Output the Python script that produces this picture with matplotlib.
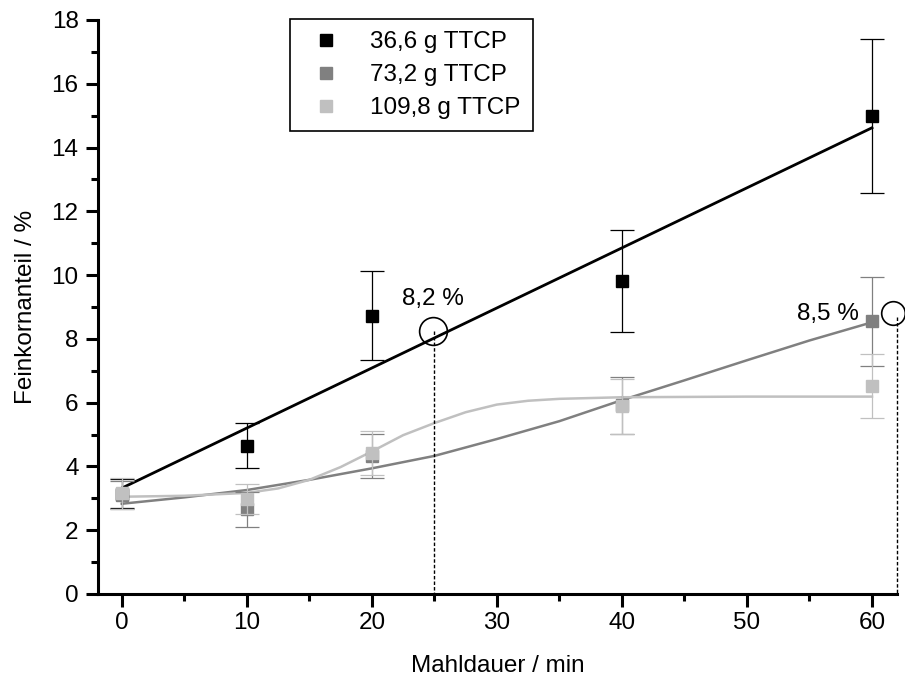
import matplotlib
matplotlib.use("Agg")
import matplotlib.pyplot as plt
from matplotlib.lines import Line2D
from matplotlib.ticker import MultipleLocator

plt.rcParams['font.family'] = ['Liberation Sans', 'DejaVu Sans']
plt.rcParams['font.size'] = 17.5

# measured values (Mahldauer in min, Feinkornanteil in %)
time = [0, 10, 20, 40, 60]
ttcp_36 = [3.15, 4.65, 8.73, 9.83, 14.99]
err_36 = [0.45, 0.7, 1.4, 1.6, 2.4]
ttcp_73 = [3.1, 2.65, 4.33, 5.92, 8.55]
err_73 = [0.45, 0.55, 0.7, 0.9, 1.4]
ttcp_110 = [3.16, 2.98, 4.42, 5.88, 6.53]
err_110 = [0.49, 0.46, 0.7, 0.85, 1.0]

# fit curves
fit_36_x = [0, 60]
fit_36_y = [3.32, 14.62]
fit_73_x = [0, 5, 10, 15, 20, 25, 30, 35, 40, 45, 50, 55, 60]
fit_73_y = [2.83, 3.03, 3.26, 3.58, 3.94, 4.33, 4.86, 5.42, 6.08, 6.70, 7.33, 7.95, 8.52]
fit_110_x = [0, 5, 10, 12.5, 15, 17.5, 20, 22.5, 25, 27.5, 30, 32.5, 35, 40, 50, 60]
fit_110_y = [3.05, 3.08, 3.17, 3.31, 3.58, 3.98, 4.47, 4.98, 5.36, 5.70, 5.94, 6.06, 6.12, 6.17, 6.19, 6.19]

labels = ['36,6 g TTCP', '73,2 g TTCP', '109,8 g TTCP']
colors = ['#000000', '#808080', '#c0c0c0']

fig = plt.figure(figsize=(9.05, 6.78), dpi=100)
ax = fig.add_axes([98 / 905, 84 / 678, 799 / 905, 574 / 678])

series = [(ttcp_36, err_36, fit_36_x, fit_36_y),
          (ttcp_73, err_73, fit_73_x, fit_73_y),
          (ttcp_110, err_110, fit_110_x, fit_110_y)]
lws = [2.0, 1.8, 1.8]
for i, (vals, errs, fx, fy) in enumerate(series):
    ax.plot(fx, fy, color=colors[i], lw=lws[i], zorder=2 + i)
    ax.errorbar(time, vals, yerr=errs, fmt='s', color=colors[i], ms=9,
                ecolor=colors[i], elinewidth=0.9, capsize=8.5, capthick=0.9,
                zorder=5 + i)

# marked values
ax.plot([24.9], [8.24], marker='o', ms=20, mfc='none', mec='black', mew=1.2,
        clip_on=False, zorder=10)
ax.plot([25, 25], [8.24, 0], color='black', lw=1, ls=(0, (2.5, 1.5)), zorder=10)
ax.text(24.9, 9.07, '8,2 %', ha='center', va='baseline')

ax.plot([61.66], [8.81], marker='o', ms=17, mfc='none', mec='black', mew=1.2,
        clip_on=False, zorder=10)
ax.plot([61.98, 61.98], [8.7, 0], color='black', lw=1, ls=(0, (2.5, 1.5)),
        clip_on=False, zorder=10)
ax.text(56.5, 8.59, '8,5 %', ha='center', va='baseline')

ax.set_xlim(-1.9, 62)
ax.set_ylim(0, 18)
ax.set_xticks([0, 10, 20, 30, 40, 50, 60])
ax.set_yticks(range(0, 19, 2))
ax.xaxis.set_minor_locator(MultipleLocator(5))
ax.yaxis.set_minor_locator(MultipleLocator(1))
ax.tick_params(which='major', direction='out', length=9, width=2.2, pad=4)
ax.tick_params(which='minor', direction='out', length=5, width=2.2)
ax.tick_params(axis='y', which='major', pad=5)

for side in ['top', 'right']:
    ax.spines[side].set_visible(False)
for side in ['left', 'bottom']:
    ax.spines[side].set_linewidth(2.2)

ax.set_xlabel('Mahldauer / min')
ax.set_ylabel('Feinkornanteil / %')
ax.xaxis.set_label_coords(0.5, -0.106)
ax.yaxis.set_label_coords(-0.076, 0.5)

handles = [Line2D([], [], marker='s', ls='none', color=c, ms=8.5) for c in colors]
leg = ax.legend(handles, labels, loc='upper left',
                bbox_to_anchor=(290 / 905, 1 - 19 / 678),
                bbox_transform=fig.transFigure, frameon=True, fancybox=False,
                edgecolor='black', framealpha=1, borderaxespad=0,
                borderpad=0.5, handlelength=2, handletextpad=0.8,
                labelspacing=0.45)
leg.get_frame().set_linewidth(1.2)

fig.savefig('out.png', dpi=100)
